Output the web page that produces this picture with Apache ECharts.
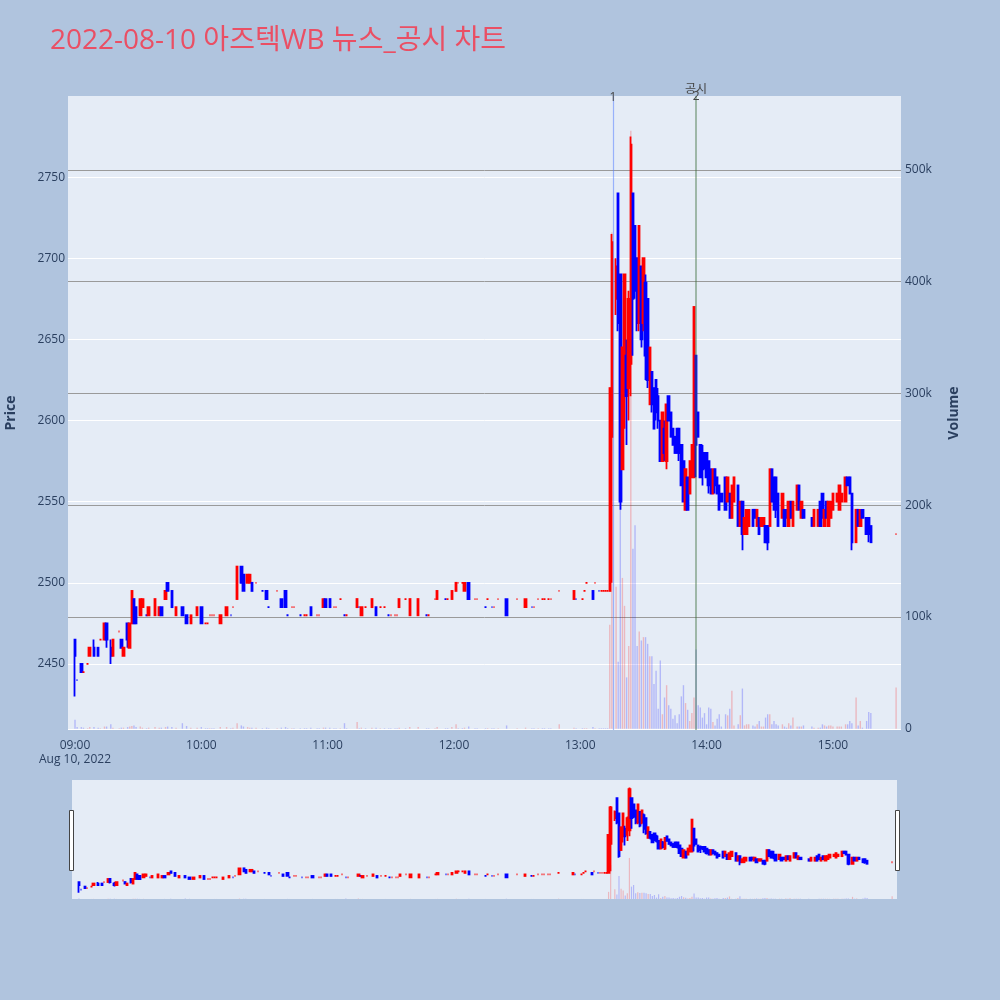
<!DOCTYPE html>
<html lang="ko">
<head>
<meta charset="UTF-8" />
<title>아즈텍WB 뉴스_공시 차트</title>
<script src="https://cdn.jsdelivr.net/npm/echarts@6/dist/echarts.min.js"></script>
<style>
  html, body { margin: 0; padding: 0; background: #b0c4de; }
  #container { width: 1000px; height: 1000px; }
</style>
</head>
<body>
<div id="container"></div>
<script>
// 1-minute bars, 2022-08-10
const times = [
  '09:00','09:01','09:03','09:04','09:06','09:07','09:09','09:11','09:12','09:14',
  '09:15','09:17','09:18','09:21','09:22','09:23','09:25','09:26','09:27','09:28',
  '09:29','09:31','09:32','09:34','09:35','09:38','09:40','09:41','09:43','09:44',
  '09:46','09:48','09:51','09:53','09:55','09:58','10:00','10:02','10:03','10:04',
  '10:05','10:06','10:09','10:12','10:14','10:15','10:17','10:19','10:20','10:22',
  '10:23','10:24','10:26','10:29','10:31','10:32','10:36','10:38','10:40','10:41',
  '10:43','10:44','10:47','10:49','10:50','10:52','10:55','10:56','10:58','10:59',
  '11:01','11:03','11:04','11:06','11:08','11:09','11:14','11:15','11:16','11:18',
  '11:21','11:23','11:25','11:27','11:29','11:30','11:32','11:33','11:34','11:37',
  '11:39','11:43','11:47','11:48','11:51','11:52','11:56','11:57','11:59','12:01',
  '12:02','12:04','12:05','12:07','12:10','12:11','12:15','12:16','12:18','12:19',
  '12:21','12:25','12:30','12:34','12:37','12:38','12:40','12:42','12:43','12:45',
  '12:46','12:50','12:57','12:58','13:01','13:02','13:03','13:06','13:07','13:09',
  '13:10','13:11','13:12','13:13','13:14','13:15','13:17','13:18','13:19','13:20',
  '13:21','13:22','13:23','13:24','13:25','13:26','13:27','13:28','13:29','13:30',
  '13:31','13:32','13:33','13:34','13:35','13:36','13:37','13:38','13:39','13:40',
  '13:41','13:42','13:43','13:44','13:45','13:46','13:47','13:48','13:49','13:50',
  '13:51','13:52','13:53','13:54','13:55','13:56','13:57','13:58','13:59','14:00',
  '14:01','14:02','14:03','14:04','14:05','14:06','14:07','14:09','14:10','14:11',
  '14:12','14:13','14:15','14:16','14:17','14:18','14:19','14:20','14:22','14:23',
  '14:24','14:25','14:26','14:27','14:28','14:29','14:30','14:31','14:32','14:33',
  '14:34','14:36','14:37','14:38','14:39','14:40','14:41','14:43','14:44','14:45',
  '14:46','14:50','14:51','14:53','14:54','14:55','14:56','14:57','14:58','14:59',
  '15:00','15:02','15:03','15:04','15:06','15:07','15:08','15:09','15:11','15:12',
  '15:13','15:14','15:16','15:17','15:18','15:30'
];
const opens = [
  2465,2440,2450,2445,2450,2455,2460,2460,2465,2465,
  2475,2460,2455,2470,2465,2455,2475,2460,2475,2490,
  2485,2480,2485,2480,2480,2480,2480,2485,2490,2500,
  2495,2480,2485,2480,2475,2480,2485,2475,2475,2480,
  2480,2480,2475,2480,2480,2485,2490,2510,2505,2500,
  2500,2500,2500,2495,2495,2485,2495,2490,2495,2480,
  2485,2485,2480,2480,2480,2485,2480,2480,2485,2490,
  2490,2485,2485,2490,2480,2480,2485,2485,2480,2485,
  2485,2485,2485,2485,2480,2480,2480,2480,2485,2490,
  2480,2480,2480,2480,2490,2490,2490,2490,2490,2495,
  2500,2500,2495,2500,2490,2490,2485,2490,2485,2485,
  2490,2490,2490,2485,2485,2485,2490,2490,2490,2490,
  2490,2495,2490,2490,2490,2495,2500,2495,2500,2495,
  2495,2495,2495,2495,2495,2590,2675,2740,2690,2570,
  2615,2640,2620,2635,2740,2720,2700,2660,2695,2660,
  2685,2675,2610,2630,2620,2625,2615,2600,2575,2595,
  2575,2615,2605,2595,2590,2595,2595,2585,2575,2545,
  2565,2555,2565,2565,2640,2605,2585,2580,2580,2580,
  2575,2570,2555,2570,2565,2560,2555,2565,2550,2555,
  2540,2550,2560,2535,2550,2530,2530,2535,2545,2545,
  2535,2540,2535,2535,2535,2535,2535,2570,2565,2565,
  2555,2540,2545,2545,2535,2550,2535,2545,2560,2540,
  2545,2540,2535,2535,2550,2555,2535,2550,2535,2540,
  2545,2550,2545,2550,2550,2565,2565,2555,2525,2545,
  2535,2545,2540,2540,2535,2530
];
const highs = [
  2465,2440,2450,2445,2450,2460,2465,2460,2465,2475,
  2475,2465,2465,2470,2465,2460,2475,2475,2495,2490,
  2485,2490,2490,2480,2485,2490,2485,2485,2495,2500,
  2495,2485,2485,2480,2480,2485,2485,2475,2475,2480,
  2480,2480,2480,2485,2480,2485,2510,2510,2505,2505,
  2505,2500,2500,2495,2495,2485,2495,2490,2495,2480,
  2485,2485,2480,2480,2480,2485,2480,2480,2490,2490,
  2490,2485,2485,2490,2480,2480,2490,2485,2485,2485,
  2490,2485,2485,2485,2480,2480,2480,2480,2490,2490,
  2490,2490,2480,2480,2490,2495,2490,2490,2495,2500,
  2500,2500,2500,2500,2490,2490,2485,2490,2485,2485,
  2490,2490,2490,2490,2485,2485,2490,2490,2490,2490,
  2490,2495,2495,2490,2490,2495,2500,2495,2500,2495,
  2495,2495,2495,2495,2620,2715,2700,2740,2690,2645,
  2690,2650,2680,2775,2740,2720,2700,2720,2695,2700,
  2690,2675,2645,2630,2620,2625,2620,2600,2605,2600,
  2610,2615,2605,2595,2590,2595,2595,2585,2575,2570,
  2565,2575,2585,2670,2640,2605,2585,2585,2580,2580,
  2575,2570,2570,2570,2565,2560,2555,2565,2565,2555,
  2560,2565,2560,2550,2550,2540,2545,2545,2545,2545,
  2545,2540,2540,2540,2535,2535,2570,2570,2565,2565,
  2555,2555,2545,2545,2550,2550,2550,2560,2560,2550,
  2545,2540,2545,2545,2550,2555,2545,2550,2550,2550,
  2555,2555,2560,2555,2565,2565,2565,2555,2545,2545,
  2545,2545,2540,2540,2535,2530
];
const lows = [
  2430,2440,2445,2445,2450,2455,2455,2455,2465,2465,
  2460,2450,2455,2470,2460,2455,2460,2460,2475,2475,
  2475,2480,2485,2480,2480,2480,2480,2480,2490,2495,
  2485,2480,2480,2475,2475,2480,2475,2475,2475,2480,
  2480,2480,2475,2480,2480,2485,2490,2500,2495,2500,
  2500,2495,2500,2495,2490,2485,2495,2485,2485,2480,
  2485,2485,2480,2480,2480,2480,2480,2480,2485,2485,
  2485,2485,2485,2490,2480,2480,2485,2485,2480,2485,
  2485,2480,2485,2485,2480,2480,2480,2480,2485,2490,
  2480,2480,2480,2480,2490,2490,2490,2490,2490,2495,
  2500,2500,2495,2490,2490,2490,2485,2490,2485,2485,
  2490,2480,2490,2485,2485,2485,2490,2490,2490,2490,
  2490,2495,2490,2490,2490,2495,2500,2490,2500,2495,
  2495,2495,2495,2495,2495,2500,2665,2655,2545,2570,
  2595,2585,2600,2615,2640,2675,2655,2655,2645,2655,
  2625,2620,2610,2605,2595,2600,2595,2575,2575,2575,
  2570,2600,2590,2585,2580,2580,2575,2560,2550,2545,
  2545,2555,2565,2565,2565,2590,2565,2560,2570,2565,
  2555,2555,2555,2555,2555,2545,2550,2545,2550,2540,
  2540,2550,2535,2535,2520,2530,2530,2535,2535,2540,
  2535,2530,2535,2535,2525,2520,2535,2550,2545,2540,
  2535,2540,2535,2540,2535,2540,2535,2545,2545,2540,
  2540,2535,2535,2535,2535,2540,2535,2540,2535,2540,
  2545,2550,2545,2550,2550,2560,2555,2520,2525,2535,
  2535,2540,2530,2525,2525,2530
];
const closes = [
  2455,2440,2445,2445,2450,2460,2455,2455,2465,2475,
  2465,2455,2465,2470,2460,2460,2465,2475,2495,2475,
  2475,2490,2490,2480,2485,2490,2485,2480,2495,2495,
  2485,2485,2480,2475,2480,2485,2475,2475,2475,2480,
  2480,2480,2480,2485,2480,2485,2510,2500,2495,2505,
  2505,2495,2500,2495,2490,2485,2495,2485,2485,2480,
  2485,2485,2480,2480,2480,2480,2480,2480,2490,2485,
  2485,2485,2485,2490,2480,2480,2490,2485,2485,2485,
  2490,2480,2485,2485,2480,2480,2480,2480,2490,2490,
  2490,2490,2480,2480,2490,2495,2490,2490,2495,2500,
  2500,2500,2500,2490,2490,2490,2485,2490,2485,2485,
  2490,2480,2490,2490,2485,2485,2490,2490,2490,2490,
  2490,2495,2495,2490,2490,2495,2500,2490,2500,2495,
  2495,2495,2495,2495,2620,2710,2695,2660,2550,2645,
  2690,2615,2675,2770,2675,2680,2660,2720,2650,2700,
  2640,2625,2645,2610,2595,2605,2600,2575,2605,2580,
  2610,2600,2590,2585,2580,2580,2580,2560,2550,2570,
  2545,2575,2585,2670,2585,2590,2565,2570,2575,2565,
  2560,2555,2570,2560,2555,2545,2550,2545,2565,2540,
  2560,2565,2535,2550,2530,2540,2545,2545,2535,2540,
  2545,2530,2540,2540,2525,2525,2570,2550,2545,2545,
  2535,2555,2535,2540,2550,2540,2550,2560,2545,2550,
  2540,2535,2545,2545,2535,2540,2545,2540,2550,2550,
  2555,2555,2560,2555,2565,2560,2555,2525,2545,2535,
  2545,2540,2530,2530,2525,2530
];
const volumes = [
  8000,1500,1500,1000,500,1500,1500,1000,500,2000,
  2000,4000,1000,500,1000,1000,1500,2000,2500,3000,
  1500,2000,1000,500,1000,1500,1000,1000,1500,2000,
  1500,1000,5000,2500,1000,1000,1500,500,500,500,
  500,500,1500,1500,500,1000,5000,3000,2000,1500,
  1000,1000,1000,500,1000,500,500,1000,1500,500,
  500,500,500,500,500,1000,500,500,1000,1000,
  1000,500,500,500,5000,500,6000,500,1000,500,
  1000,1000,500,500,500,500,500,500,1000,500,
  1500,1500,500,500,500,1500,500,500,1500,4000,
  500,500,1000,2000,500,500,500,500,500,500,
  500,3000,500,1000,500,500,500,500,500,500,
  500,4000,1000,500,500,500,500,1500,500,500,
  500,500,500,500,93000,444000,127000,60000,300000,135000,
  110000,46000,74000,535000,161000,182000,74000,87000,79000,82000,
  82000,76000,65000,65000,40000,52000,18000,61000,13000,28000,
  39000,21000,18000,9000,12000,5000,13000,29000,39000,23000,
  17000,7000,14000,28000,71000,21000,19000,10000,14000,4000,
  19000,18000,6000,3000,9000,13000,2000,13000,12000,18000,
  34000,3000,4000,12000,36000,3000,4000,4000,3000,2000,
  4000,7000,2000,2000,10000,13000,13000,4000,7000,4000,
  3000,4000,2000,1000,5000,3000,10000,2000,2000,2000,
  3000,2000,1000,1000,1000,4000,3000,2000,3000,3000,
  2000,2000,2000,2000,4000,4000,7000,5000,28000,3000,
  7000,1000,7000,15000,14000,37000
];

// marked events (news / disclosure)
const eventTimes = ['13:15:30', '13:55:00'];
const eventTags = ['1', '2'];
const eventNote = '공시';

// axis ticks
const priceTicks = [2450, 2500, 2550, 2600, 2650, 2700, 2750];
const volumeTicks = [0, 100000, 200000, 300000, 400000, 500000];
const timeTicks = ['09:00', '10:00', '11:00', '12:00', '13:00', '14:00', '15:00'];
const dateLabel = 'Aug 10, 2022';

// minutes since 09:00
function toMin(t) {
  const p = t.split(':').map(Number);
  return (p[0] - 9) * 60 + p[1] + (p[2] || 0) / 60;
}
function minLabel(m) {
  const h = 9 + Math.floor(m / 60), mm = Math.round(m % 60);
  return String(h).padStart(2, '0') + ':' + String(mm).padStart(2, '0');
}

const xs = times.map(toMin);
const candles = xs.map((x, i) => [x, opens[i], closes[i], lows[i], highs[i]]);
const volData = xs.map((x, i) => [x, volumes[i]]);
// up/down for volume colours (ties follow previous close)
const ups = closes.map((c, i) => {
  if (c !== opens[i]) return c > opens[i];
  return i === 0 ? true : c > closes[i - 1];
});

const UP = '#ff0000', DOWN = '#0000ff';
const FONT = '"Open Sans", "Noto Sans CJK KR", sans-serif';
const TXT = '#2a3f5f';
const X_MIN = -3.33, X_MAX = 392.33;

const chart = echarts.init(document.getElementById('container'));

const volColor = p => ups[p.dataIndex] ? 'rgba(255,0,0,0.22)' : 'rgba(0,0,255,0.22)';

const option = {
  backgroundColor: '#b0c4de',
  animation: false,
  textStyle: { fontFamily: FONT },
  title: {
    text: '2022-08-10 아즈텍WB 뉴스_공시 차트',
    left: 45, top: 22,
    textStyle: { color: '#ea4f64', fontSize: 28, fontWeight: 'normal', fontFamily: FONT }
  },
  grid: [
    { left: 68, right: 99, top: 96, height: 634, outerBoundsMode: 'none', containLabel: false,
      show: true, backgroundColor: '#e5ecf6', borderWidth: 0 },
    { left: 72, right: 103, top: 780, height: 119, outerBoundsMode: 'none', containLabel: false,
      show: true, backgroundColor: '#e5ecf6', borderWidth: 0 }
  ],
  xAxis: [
    {
      type: 'value', gridIndex: 0, min: X_MIN, max: X_MAX,
      axisLine: { show: false }, splitLine: { show: false },
      axisTick: { show: false, customValues: timeTicks.map(toMin) },
      axisLabel: {
        customValues: timeTicks.map(toMin),
        color: TXT, fontSize: 12, margin: 9, lineHeight: 14,
        formatter: v => v === 0 ? minLabel(v) + '\n' + dateLabel : minLabel(v)
      }
    },
    { type: 'value', gridIndex: 1, min: X_MIN, max: X_MAX, show: false }
  ],
  yAxis: [
    {
      type: 'value', gridIndex: 0, min: 2409.3, max: 2800,
      name: 'Price', nameLocation: 'middle', nameGap: 50,
      nameTextStyle: { color: TXT, fontSize: 14, fontWeight: 'bold' },
      axisLine: { show: false },
      axisTick: { show: false, customValues: priceTicks },
      axisLabel: { customValues: priceTicks, color: TXT, fontSize: 12, margin: 3, formatter: v => String(v) },
      splitLine: { show: true, customValues: priceTicks, lineStyle: { color: '#ffffff', width: 1 } }
    },
    {
      type: 'value', gridIndex: 0, min: -1100, max: 566200, position: 'right',
      name: 'Volume', nameLocation: 'middle', nameGap: 46,
      nameTextStyle: { color: TXT, fontSize: 14, fontWeight: 'bold' },
      axisLine: { show: false },
      axisTick: { show: false, customValues: volumeTicks },
      axisLabel: {
        customValues: volumeTicks, color: TXT, fontSize: 12, margin: 4,
        formatter: v => v === 0 ? '0' : (v / 1000) + 'k'
      },
      splitLine: {
        show: true, customValues: volumeTicks,
        lineStyle: { color: ['#ffffff', '#9a9a9a', '#9a9a9a', '#9a9a9a', '#9a9a9a', '#9a9a9a'], width: 1 }
      }
    },
    { type: 'value', gridIndex: 1, min: 2409.3, max: 2800, show: false, splitLine: { show: false } },
    { type: 'value', gridIndex: 1, min: 0, max: 1550000, show: false, splitLine: { show: false } }
  ],
  series: [
    {
      name: 'Volume', type: 'bar', xAxisIndex: 0, yAxisIndex: 1,
      data: volData, barWidth: 1.4, z: 1, silent: true,
      itemStyle: { color: volColor }
    },
    {
      name: 'Price', type: 'candlestick', xAxisIndex: 0, yAxisIndex: 0,
      data: candles, encode: { x: 0, y: [1, 2, 3, 4] },
      barWidth: 2, z: 3,
      itemStyle: { color: UP, color0: DOWN, borderColor: UP, borderColor0: DOWN, borderWidth: 1.8 },
      markLine: {
        silent: true, symbol: 'none', animation: false,
        data: [
          {
            xAxis: toMin(eventTimes[0]),
            lineStyle: { color: 'rgba(90,130,255,0.55)', width: 1.2, type: 'solid' },
            label: { formatter: eventTags[0], position: 'end', distance: -8, color: '#444', fontSize: 12 }
          },
          {
            xAxis: toMin(eventTimes[1]),
            lineStyle: { color: 'rgba(60,110,60,0.42)', width: 2, type: 'solid' },
            label: {
              formatter: '{a|' + eventNote + '}\n{b|' + eventTags[1] + '}',
              position: 'end', distance: -5, color: '#444', fontSize: 12,
              rich: { a: { lineHeight: 6, fontSize: 12, color: '#444' }, b: { lineHeight: 8, fontSize: 12, color: '#444' } }
            }
          }
        ]
      }
    },
    {
      name: 'VolumeMini', type: 'bar', xAxisIndex: 1, yAxisIndex: 3,
      data: volData, barWidth: 1.2, z: 1, silent: true,
      itemStyle: { color: volColor }
    },
    {
      name: 'PriceMini', type: 'candlestick', xAxisIndex: 1, yAxisIndex: 2,
      data: candles, encode: { x: 0, y: [1, 2, 3, 4] },
      barWidth: 1.8, z: 3, silent: true,
      itemStyle: { color: UP, color0: DOWN, borderColor: UP, borderColor0: DOWN, borderWidth: 1.8 }
    }
  ],
  // range slider grips
  graphic: [
    { type: 'rect', x: 69.5, y: 810.5, shape: { width: 4, height: 60 }, style: { fill: '#fff', stroke: '#444', lineWidth: 1 } },
    { type: 'rect', x: 895.5, y: 810.5, shape: { width: 4, height: 60 }, style: { fill: '#fff', stroke: '#444', lineWidth: 1 } }
  ]
};

chart.setOption(option);
</script>
</body>
</html>
